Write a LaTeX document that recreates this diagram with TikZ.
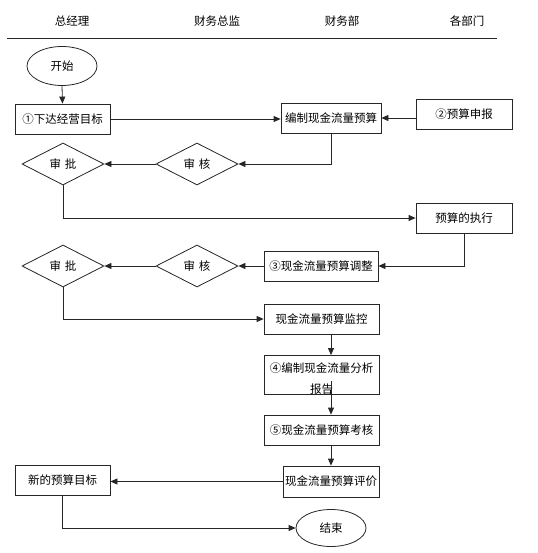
\documentclass[tikz,border=0pt]{standalone}
\usepackage{fontspec}
\setmainfont{Noto Sans CJK SC}
\usetikzlibrary{shapes.geometric,arrows.meta}
\begin{document}
\begin{tikzpicture}[x=1pt,y=-1pt,
  font=\fontsize{11.5}{14}\selectfont,
  box/.style={draw=black!85, rectangle, inner sep=0pt, line width=0.8pt},
  dia/.style={draw=black!85, diamond, inner sep=0pt, line width=0.8pt, minimum width=82pt, minimum height=42pt},
  oval/.style={draw=black!85, ellipse, inner sep=0pt, line width=0.8pt},
  arr/.style={-{Triangle[length=7pt,width=6pt]}, line width=0.8pt, draw=black!85},
  head/.style={inner sep=0pt}]
\useasboundingbox (0,0) rectangle (537,553);
% headers
\node[head] (h1) at (72,21) {总经理};
\node[head] (h2) at (217,21) {财务总监};
\node[head] (h3) at (342,21) {财务部};
\node[head] (h4) at (467,21) {各部门};
\draw[line width=0.8pt, black!85] (7,38) -- (497,38);
% nodes
\node[oval, minimum width=70pt, minimum height=39pt] (ks) at (62,66) {开始};
\node[box, minimum width=95pt, minimum height=30pt] (b1) at (62.5,119) {①下达经营目标};
\node[box, minimum width=100pt, minimum height=30pt] (bz) at (331,118) {编制现金流量预算};
\node[box, minimum width=96pt, minimum height=30pt] (sb) at (464,114) {②预算申报};
\node[dia] (sh1) at (197,164) {审\,\,核};
\node[dia] (sp1) at (63,164) {审\,\,批};
\node[box, minimum width=96pt, minimum height=30pt] (zx) at (464,218) {预算的执行};
\node[box, minimum width=114pt, minimum height=30pt] (tz) at (321,266) {③现金流量预算调整};
\node[dia] (sh2) at (197,266) {审\,\,核};
\node[dia] (sp2) at (63,266) {审\,\,批};
\node[box, minimum width=115pt, minimum height=30pt] (jk) at (321.5,319) {现金流量预算监控};
\node[box, minimum width=115pt, minimum height=38pt, align=center] (fx) at (321.5,375)
  {\rule{0pt}{4pt}\\[-1pt]④编制现金流量分析\\[7pt]报告};
\node[box, minimum width=115pt, minimum height=30pt] (wu) at (321.5,430) {⑤现金流量预算考核};
\node[box, minimum width=96pt, minimum height=31pt] (pj) at (331,481.5) {现金流量预算评价};
\node[box, minimum width=95pt, minimum height=30pt] (xm) at (62.5,480) {新的预算目标};
\node[oval, minimum width=70pt, minimum height=37pt] (js) at (331,528) {结束};
% connectors
\draw[arr] (ks.south) -- (b1.north);
\draw[arr] (b1.east) -- (b1.east -| bz.west);
\draw[arr] (sb.west |- bz.east) -- (bz.east);
\draw[arr] (bz.south) |- (sh1.east);
\draw[arr] (sh1.west) -- (sp1.east);
\draw[arr] (sp1.south) |- (zx.west);
\draw[arr] (zx.south) |- (tz.east);
\draw[arr] (tz.west) -- (sh2.east);
\draw[arr] (sh2.west) -- (sp2.east);
\draw[arr] (sp2.south) |- (jk.west);
\draw[arr] (jk.south -| pj.north) -- (fx.north -| pj.north);
\draw[arr, shorten <=-14pt] (fx.south -| pj.north) -- (wu.north -| pj.north);
\draw[arr] (wu.south -| pj.north) -- (pj.north);
\draw[arr] (pj.west) -- (pj.west -| xm.east);
\draw[arr] (xm.south) |- (js.west);
\end{tikzpicture}
\end{document}
